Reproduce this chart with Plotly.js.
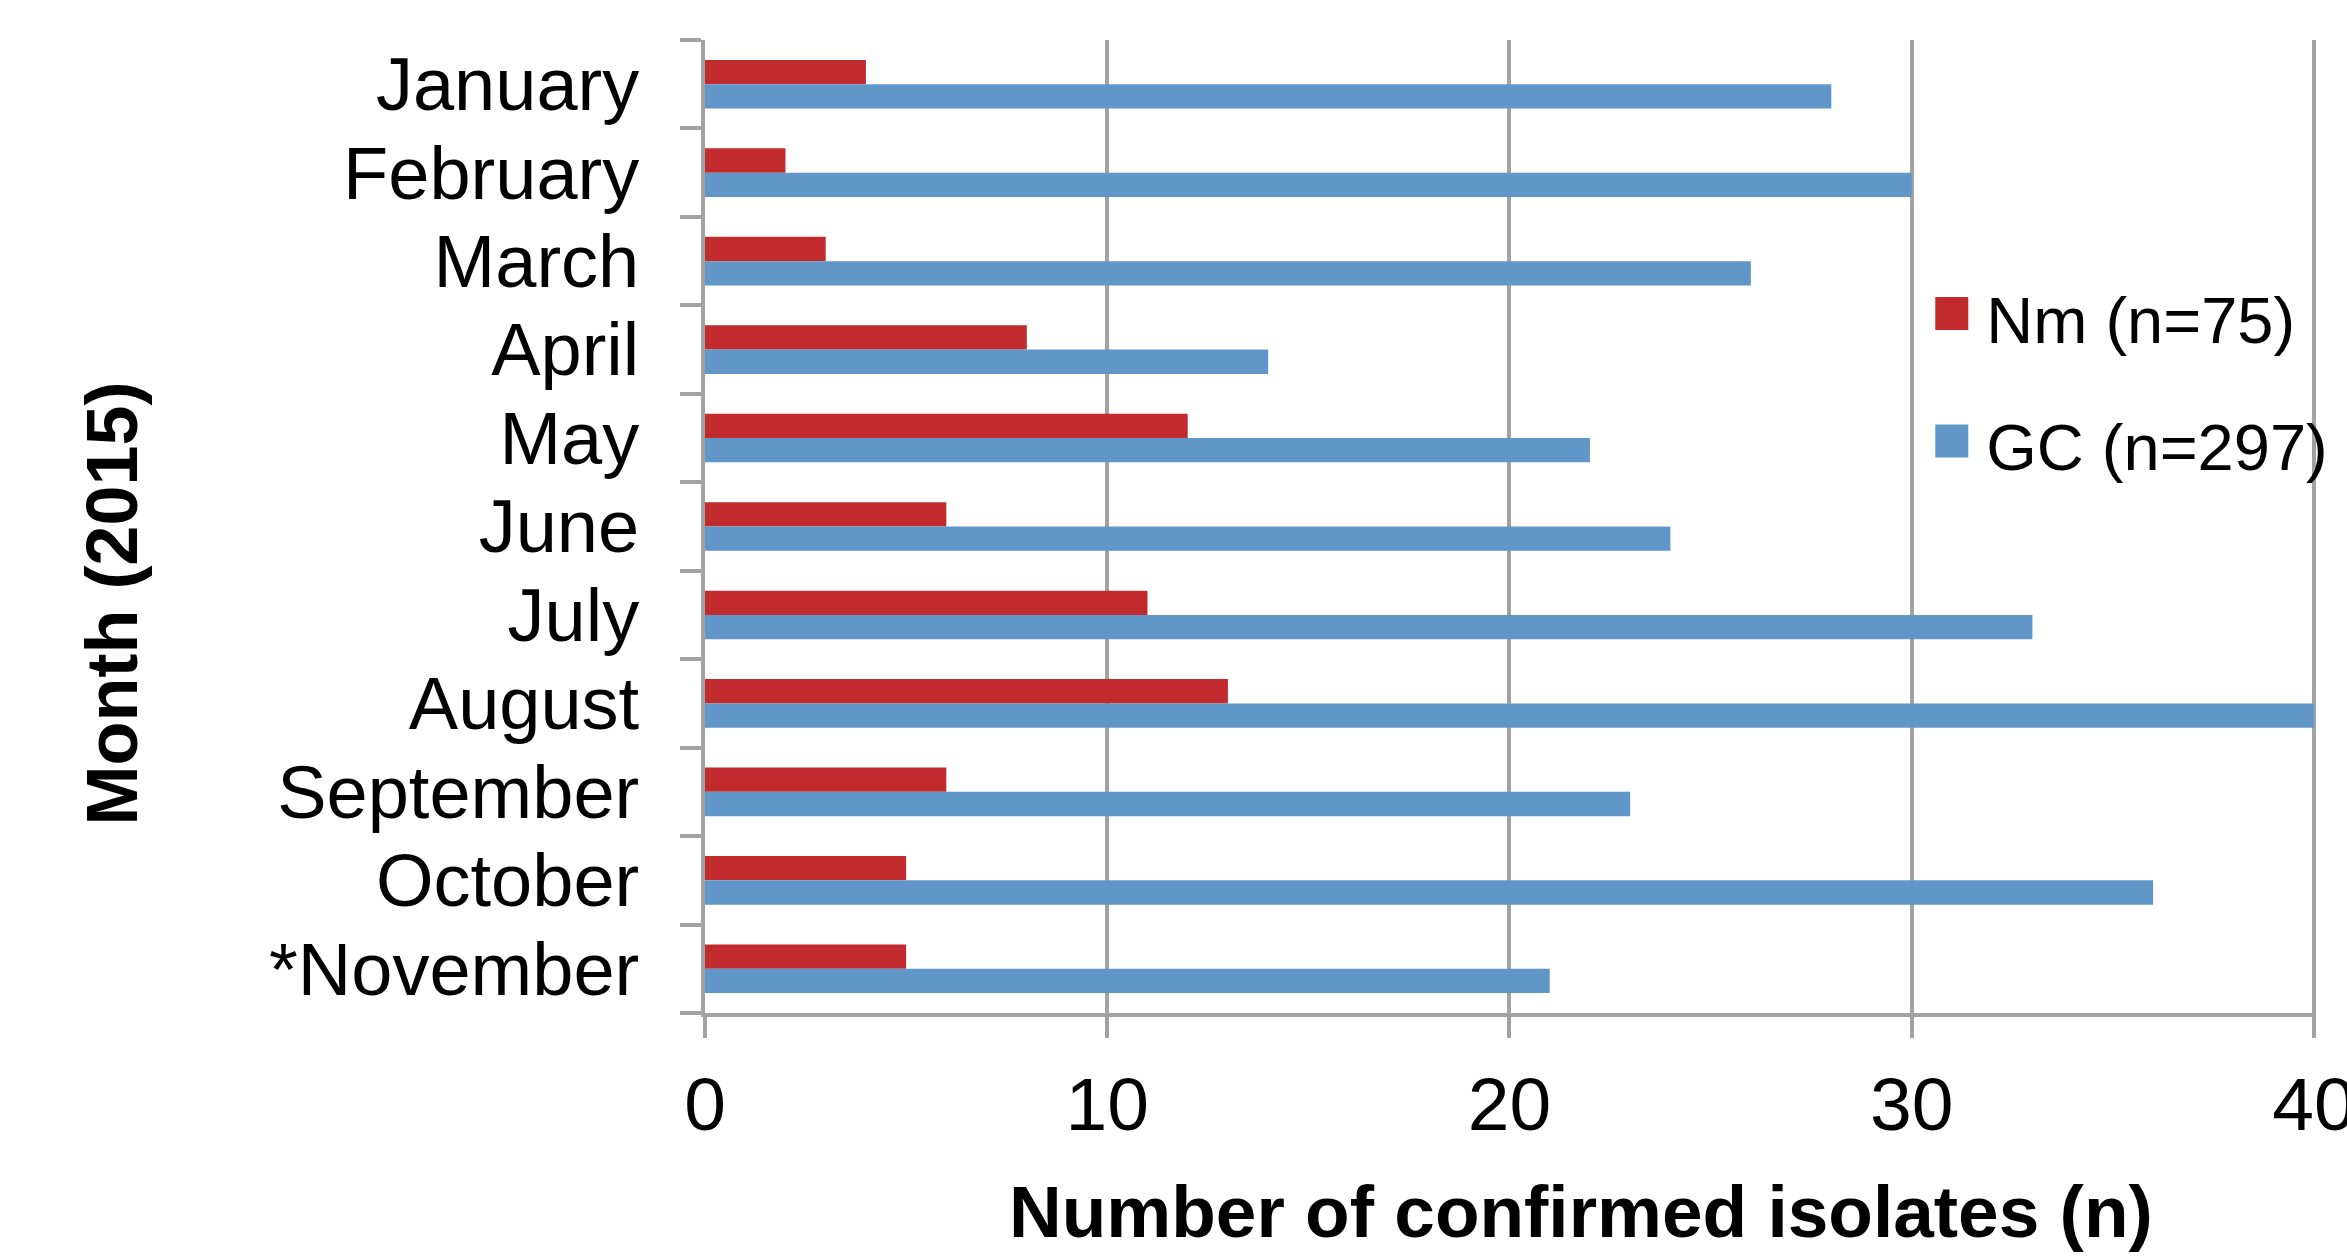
<!DOCTYPE html>
<html>
<head>
<meta charset="utf-8">
<script src="https://cdn.plot.ly/plotly-3.0.1.min.js"></script>
<style>html,body{margin:0;padding:0;background:#fff;}#chart{width:2347px;height:1256px;}</style>
</head>
<body>
<div id="chart"></div>
<script>
const months = ["January","February","March","April","May","June","July","August","September","October","*November"];
const nmValues = [4,2,3,8,12,6,11,13,6,5,5];
const gcValues = [28,30,26,14,22,24,33,40,23,36,21];
const seriesNames = ["Nm (n=75)","GC (n=297)"];
const xTickValues = [0,10,20,30,40];
const xTitle = "Number of confirmed isolates (n)";
const yTitle = "Month (2015)";

const FONT = "Liberation Sans, Arial, sans-serif";
const GRAY = "#a2a2a2";

const traces = [
  {type:"bar", orientation:"h", name:seriesNames[0], y:months, x:nmValues,
   marker:{color:"#C12B2D"}, legendgroup:"a"},
  {type:"bar", orientation:"h", name:seriesNames[1], y:months, x:gcValues,
   marker:{color:"#6196C9"}, legendgroup:"b"}
];

const layout = {
  width:2347, height:1256,
  margin:{l:705, r:31, t:40, b:243, pad:0},
  paper_bgcolor:"#fff", plot_bgcolor:"#fff",
  font:{family:FONT, color:"#000", size:74},
  barmode:"group", bargap:0.45, bargroupgap:0,
  showlegend:true,
  legend:{x:0.7525, y:0.765, xanchor:"left", yanchor:"top", bgcolor:"rgba(0,0,0,0)",
          font:{family:FONT, size:65, color:"#000"}, traceorder:"grouped", tracegroupgap:40,
          itemwidth:59, itemclick:false},
  xaxis:{range:[0,40.05], tickvals:xTickValues, ticktext:xTickValues.map(String),
         showgrid:true, gridcolor:GRAY, gridwidth:4, zeroline:false,
         showline:true, linecolor:GRAY, linewidth:4,
         ticks:"outside", ticklen:21, tickwidth:4, tickcolor:GRAY,
         tickfont:{family:FONT, size:75, color:"#000"}, ticklabelstandoff:2,
         ticklabeloverflow:"allow", fixedrange:true},
  yaxis:{type:"category", autorange:"reversed", showgrid:false, zeroline:false,
         tickmode:"array", tickvals:months, ticktext:months,
         showline:true, linecolor:GRAY, linewidth:4,
         ticks:"outside", ticklen:21, tickwidth:4, tickcolor:GRAY, tickson:"boundaries",
         tickfont:{family:FONT, size:74, color:"#000"}, ticklabelstandoff:47, fixedrange:true},
  annotations:[
    {text:"<b>"+xTitle+"</b>", xref:"paper", yref:"paper", x:0.544, y:-0.204,
     xanchor:"center", yanchor:"middle", showarrow:false, font:{family:FONT, size:73, color:"#000"}},
    {text:"<b>"+yTitle+"</b>", xref:"paper", yref:"paper", x:-0.368, y:0.421, textangle:-90,
     xanchor:"center", yanchor:"middle", showarrow:false, font:{family:FONT, size:72, color:"#000"}}
  ]
};

Plotly.newPlot("chart", traces, layout, {staticPlot:true, displayModeBar:false}).then(function(gd){
  gd.querySelectorAll(".legend .legendpoints path").forEach(function(p){
    p.setAttribute("d","M16.5,12.5H-16.5V-20.5H16.5Z");
    p.style.strokeWidth = "0px";
  });
});
</script>
</body>
</html>
